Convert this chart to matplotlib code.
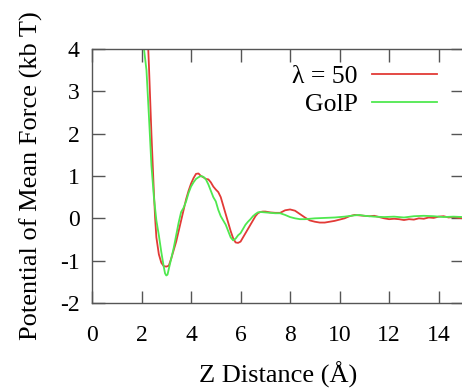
import matplotlib
matplotlib.use('Agg')
import matplotlib.pyplot as plt

# potential of mean force curves
lam_x = [2.25, 2.3, 2.35, 2.4, 2.45, 2.5, 2.55, 2.6, 2.7, 2.8, 2.9, 3.0, 3.1, 3.2, 3.3, 3.4,
         3.5, 3.6, 3.7, 3.8, 3.9, 4.0, 4.1, 4.2, 4.3, 4.4, 4.5, 4.6, 4.7, 4.8, 4.9, 5.0,
         5.1, 5.2, 5.3, 5.4, 5.5, 5.6, 5.7, 5.8, 5.9, 6.0, 6.1, 6.2, 6.3, 6.4, 6.5, 6.6,
         6.7, 6.8, 6.9, 7.0, 7.2, 7.4, 7.6, 7.7, 7.8, 8.0, 8.2, 8.4, 8.6, 8.8, 9.0, 9.2,
         9.4, 9.6, 9.8, 10.0, 10.2, 10.4, 10.6, 10.8, 11.0, 11.2, 11.4, 11.6, 11.8, 12.0,
         12.2, 12.4, 12.6, 12.8, 13.0, 13.2, 13.4, 13.6, 13.8, 14.0, 14.2, 14.4, 14.6, 14.8, 15.0]
lam_y = [4.3, 3.6, 2.8, 2.0, 1.3, 0.6, 0.0, -0.45, -0.85, -1.05, -1.13, -1.14, -1.12, -0.95, -0.75, -0.55,
         -0.3, -0.05, 0.2, 0.45, 0.65, 0.82, 0.95, 1.05, 1.06, 1.0, 0.97, 0.93, 0.92, 0.85, 0.75, 0.68,
         0.62, 0.5, 0.3, 0.1, -0.1, -0.3, -0.47, -0.57, -0.58, -0.55, -0.45, -0.35, -0.25, -0.15, -0.05, 0.05,
         0.12, 0.15, 0.16, 0.16, 0.14, 0.13, 0.13, 0.16, 0.19, 0.21, 0.18, 0.1, 0.02, -0.05, -0.08, -0.1,
         -0.1, -0.08, -0.06, -0.03, 0.0, 0.05, 0.08, 0.07, 0.06, 0.05, 0.06, 0.03, 0.0, -0.02,
         -0.01, -0.02, -0.04, -0.02, -0.03, 0.0, -0.01, 0.02, 0.01, 0.04, 0.05, 0.02, 0.03, 0.01, 0.0]

golp_x = [2.0, 2.1, 2.2, 2.3, 2.4, 2.5, 2.6, 2.7, 2.8, 2.9, 2.95, 3.0, 3.05, 3.1, 3.2, 3.3,
          3.4, 3.5, 3.6, 3.7, 3.8, 3.9, 4.0, 4.1, 4.2, 4.3, 4.4, 4.5, 4.6, 4.7, 4.8, 4.9,
          5.0, 5.1, 5.2, 5.3, 5.4, 5.5, 5.6, 5.7, 5.8, 5.9, 6.0, 6.1, 6.2, 6.3, 6.4, 6.5,
          6.6, 6.7, 6.8, 7.0, 7.2, 7.4, 7.6, 7.8, 8.0, 8.2, 8.4, 8.6, 8.8, 9.0, 9.4, 9.8,
          10.2, 10.6, 10.8, 11.0, 11.4, 11.8, 12.2, 12.6, 13.0, 13.4, 13.8, 14.2, 14.6, 15.0]
golp_y = [4.3, 4.0, 3.5, 2.4, 1.25, 0.5, -0.05, -0.4, -0.8, -1.15, -1.3, -1.35, -1.33, -1.2, -0.95, -0.7,
          -0.4, -0.1, 0.15, 0.25, 0.4, 0.6, 0.75, 0.85, 0.93, 0.97, 1.0, 0.98, 0.92, 0.8, 0.65, 0.5,
          0.4, 0.2, 0.05, -0.05, -0.15, -0.3, -0.45, -0.52, -0.48, -0.4, -0.35, -0.25, -0.15, -0.08, -0.02, 0.05,
          0.1, 0.14, 0.15, 0.14, 0.13, 0.12, 0.12, 0.08, 0.03, 0.0, -0.02, -0.02, -0.01, 0.0, 0.01, 0.02,
          0.04, 0.07, 0.08, 0.06, 0.04, 0.03, 0.04, 0.02, 0.05, 0.06, 0.05, 0.03, 0.04, 0.03]

x_ticks = [0, 2, 4, 6, 8, 10, 12, 14]
y_ticks = [-2, -1, 0, 1, 2, 3, 4]

plt.rcParams['font.family'] = 'Liberation Serif'
plt.rcParams['font.size'] = 17
plt.rcParams['axes.unicode_minus'] = False

fig = plt.figure(figsize=(4.62, 3.92), dpi=100)
ax = fig.add_axes([92 / 462, 1 - 303 / 392, (463.4 - 92) / 462, (303 - 49) / 392])

ax.plot(lam_x, lam_y, color='#e23a36', lw=1.3, label='λ = 50')
ax.plot(golp_x, golp_y, color='#4fe84f', lw=1.3, label='GolP')

ax.set_xlim(0, 15)
ax.set_ylim(-2, 4)
ax.set_xticks(x_ticks)
ax.set_yticks(y_ticks)

# gnuplot look: inward ticks mirrored on every side, grey frame
for s in ax.spines.values():
    s.set_color('#555555')
    s.set_linewidth(1.0)
ax.tick_params(direction='in', length=9, width=1, color='#555555',
               top=True, right=True, labelsize=17)
ax.tick_params(axis='x', pad=16)
ax.tick_params(axis='y', pad=9)

ax.set_xlabel('Z Distance (Å)', fontsize=19, labelpad=11)
ax.set_ylabel('Potential of Mean Force (kb T)', fontsize=19, labelpad=12)

ax.legend(loc='upper right', bbox_to_anchor=(0.929, 0.936), frameon=False,
          markerfirst=False, handlelength=2.53, handletextpad=0.55,
          labelspacing=0.2, borderpad=0, borderaxespad=0, fontsize=18.5)

fig.savefig('out.png', dpi=100)
